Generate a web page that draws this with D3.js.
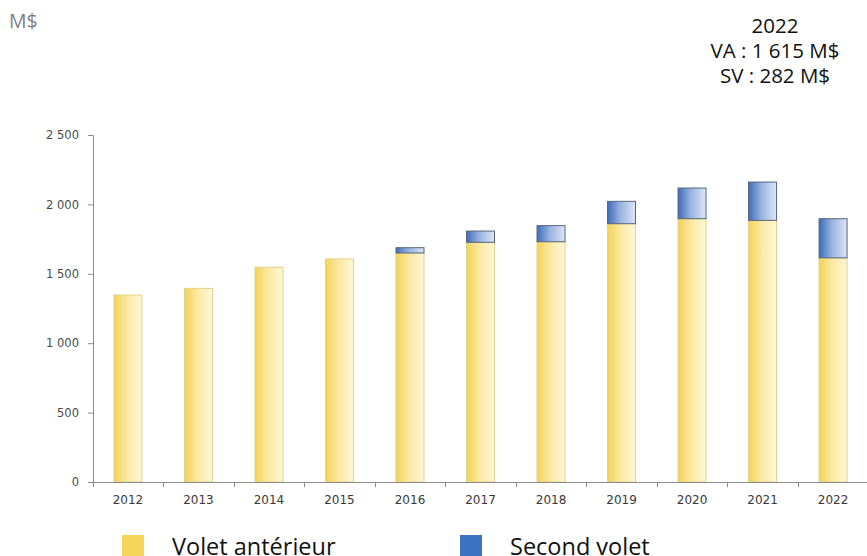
<!DOCTYPE html>
<html>
<head>
<meta charset="utf-8">
<script src="https://cdn.jsdelivr.net/npm/d3@7"></script>
<style>
  body { margin: 0; background: #fff; }
  svg { display: block; }
</style>
</head>
<body>
<div id="chart"></div>
<script>
// Données (M$)
const years = ['2012', '2013', '2014', '2015', '2016', '2017', '2018', '2019', '2020', '2021', '2022'];
const voletAnterieur = [1347, 1395, 1547, 1607, 1650, 1727, 1731, 1861, 1897, 1885, 1615];
const secondVolet = [0, 0, 0, 0, 38, 81, 116, 161, 221, 276, 282];
const yTicks = [0, 500, 1000, 1500, 2000, 2500];
const seriesNames = ['Volet antérieur', 'Second volet'];
const noteLines = ['2022', 'VA : 1 615 M$', 'SV : 282 M$'];

const W = 867, H = 556;
const svg = d3.select('#chart').append('svg')
    .attr('width', W)
    .attr('height', H);

// Dégradés des barres
const defs = svg.append('defs');
function gradient(id, c0, c1, c2) {
    const g = defs.append('linearGradient').attr('id', id)
        .attr('x1', '0%').attr('x2', '100%').attr('y1', '0%').attr('y2', '0%');
    g.append('stop').attr('offset', '0%').attr('stop-color', c0);
    g.append('stop').attr('offset', '45%').attr('stop-color', c1);
    g.append('stop').attr('offset', '100%').attr('stop-color', c2);
}
gradient('gradJaune', '#f2d257', '#fbe8a0', '#fff7d9');
gradient('gradBleu', '#3c6cb8', '#98b2e0', '#dde6f6');

// Échelles
const x = d3.scaleBand()
    .domain(years)
    .range([93, 868])
    .paddingInner(0.589)
    .paddingOuter(0.29);

const y = d3.scaleLinear()
    .domain([0, 2500])
    .range([482, 135]);

const locale = d3.formatLocale({ decimal: ',', thousands: ' ', grouping: [3], currency: ['', ''] });
const fmt = locale.format(',');

// Pile des séries
const rows = years.map((yr, i) => ({ year: yr, va: voletAnterieur[i], sv: secondVolet[i] }));
const stack = d3.stack().keys(['va', 'sv']);
const stacked = stack(rows);
const fills = { va: 'url(#gradJaune)', sv: 'url(#gradBleu)' };
const strokes = { va: '#e3d08c', sv: '#56667c' };

svg.append('g').selectAll('g')
    .data(stacked)
    .join('g')
    .attr('fill', d => fills[d.key])
    .attr('stroke', d => strokes[d.key])
    .attr('stroke-width', 1)
    .selectAll('rect')
    .data(d => d.filter(p => p[1] - p[0] > 0))
    .join('rect')
    .attr('x', p => x(p.data.year) + 0.5)
    .attr('width', x.bandwidth() - 1)
    .attr('y', p => y(p[1]))
    .attr('height', p => y(p[0]) - y(p[1]));

// Axe Y
const yAxis = svg.append('g')
    .attr('transform', 'translate(93,0)')
    .call(d3.axisLeft(y).tickValues(yTicks).tickFormat(fmt).tickSize(5).tickPadding(9));
yAxis.select('.domain').attr('stroke', '#8c8c8c');
yAxis.selectAll('.tick line').attr('stroke', '#8c8c8c');
yAxis.selectAll('text')
    .attr('fill', '#4a4a4a')
    .style('font-family', 'DejaVu Sans, Verdana, sans-serif')
    .style('font-size', '11.5px');

// Axe X : étiquettes au centre, graduations aux limites
const xAxis = svg.append('g')
    .attr('transform', 'translate(0,482)')
    .call(d3.axisBottom(x).tickSize(0).tickPadding(13));
xAxis.select('.domain').attr('stroke', '#8c8c8c').attr('d', 'M88,0.5H868');
xAxis.selectAll('text')
    .attr('fill', '#383838')
    .style('font-family', 'DejaVu Sans, Verdana, sans-serif')
    .style('font-size', '12px');

const step = x.step();
const bounds = years.map(yr => x(yr) - (step - x.bandwidth()) / 2);
svg.append('g').selectAll('line')
    .data(bounds)
    .join('line')
    .attr('x1', d => Math.round(d) + 0.5)
    .attr('x2', d => Math.round(d) + 0.5)
    .attr('y1', 482)
    .attr('y2', 487)
    .attr('stroke', '#8c8c8c');

// Unité
svg.append('text')
    .attr('x', 9)
    .attr('y', 28)
    .attr('fill', '#7f7f7f')
    .style('font-family', 'Open Sans, sans-serif')
    .style('font-size', '19.5px')
    .text('M$');

// Note 2022
svg.append('g').selectAll('text')
    .data(noteLines)
    .join('text')
    .attr('x', 775)
    .attr('y', (d, i) => 33 + i * 25)
    .attr('text-anchor', 'middle')
    .attr('fill', '#111')
    .style('font-family', 'Open Sans, sans-serif')
    .style('font-size', '20.5px')
    .text(d => d);

// Légende
const legendX = [122, 460];
const legendColors = ['#f5d45a', '#3d72c2'];
const legend = svg.append('g').selectAll('g')
    .data(seriesNames)
    .join('g')
    .attr('transform', (d, i) => `translate(${legendX[i]},535)`);
legend.append('rect')
    .attr('width', 22)
    .attr('height', 22)
    .attr('fill', (d, i) => legendColors[i]);
legend.append('text')
    .attr('x', 50)
    .attr('y', 20)
    .attr('fill', '#111')
    .style('font-family', 'Open Sans, sans-serif')
    .style('font-size', '23.5px')
    .text(d => d);
</script>
</body>
</html>
